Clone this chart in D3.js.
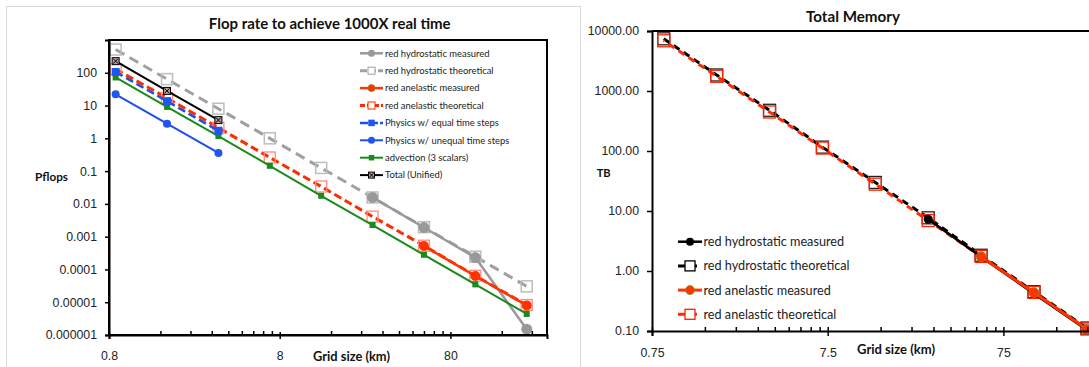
<!DOCTYPE html>
<html><head><meta charset="utf-8">
<script src="https://cdn.jsdelivr.net/npm/d3@7"></script>
<style>body{margin:0;background:#fff;} svg{display:block}</style>
</head><body>
<svg id="c" width="1089" height="367"></svg>
<script>
// ---------- DATA ----------
const gridKm = [0.875, 1.75, 3.5, 7, 14, 28, 56, 112, 224];

// Flop rate chart (Pflops)
const flopHydroMeasured      = [null, null, null, null, null, 0.0158, 0.0019, 0.00023, 0.0000015];
const flopHydroTheoretical   = [512, 64, 8, 1.0, 0.125, 0.0157, 0.00195, 0.000245, 0.0000305];
const flopAnelasticMeasured  = [null, null, null, null, null, null, 0.00052, 0.000063, 0.000008];
const flopAnelasticTheoretical = [130, 17, 2.1, 0.26, 0.034, 0.0041, 0.00053, 0.000064, 0.0000082];
const flopPhysicsEqual       = [106, 13.6, 1.7];
const flopPhysicsUnequal     = [22, 2.8, 0.36];
const flopAdvection          = [72, 9.1, 1.17, 0.145, 0.0177, 0.00226, 0.00028, 0.000035, 0.0000044];
const flopTotal              = [226, 28, 3.6];
const flopYTicks  = [1e-6, 1e-5, 1e-4, 1e-3, 1e-2, 0.1, 1, 10, 100];
const flopYLabels = ["0.000001", "0.00001", "0.0001", "0.001", "0.01", "0.1", "1", "10", "100"];
const flopXTicks  = [0.8, 8, 80];
const flopXLabels = ["0.8", "8", "80"];

// Total memory chart (TB)
const memHydroMeasured        = [null, null, null, null, null, 7.3, 1.72, 0.42, 0.104];
const memHydroTheoretical     = [7410, 1850, 477, 116, 29.9, 7.7, 1.83, 0.452, 0.112];
const memAnelasticMeasured    = [null, null, null, null, null, null, 1.73, 0.435, 0.107];
const memAnelasticTheoretical = [6870, 1760, 447, 112, 28, 6.95, 1.75, 0.44, 0.108];
const memYTicks  = [0.1, 1, 10, 100, 1000, 10000];
const memYLabels = ["0.10", "1.00", "10.00", "100.00", "1000.00", "10000.00"];
const memXTicks  = [0.75, 7.5, 75];
const memXLabels = ["0.75", "7.5", "75"];

// ---------- HELPERS ----------
const svg = d3.select("#c");
const LABEL_FONT = "'Liberation Sans', Arial, sans-serif";
const TITLE_FONT = "Lato, 'Open Sans', sans-serif";

function fitText(sel, target) {
  const w = sel.node().getComputedTextLength();
  const fs = parseFloat(sel.attr("font-size"));
  sel.attr("font-size", fs * target / w);
  return sel;
}
function drawMarker(g, m, cx, cy) {
  if (!m) return;
  if (m.type === "circle") {
    g.append("circle").attr("cx", cx).attr("cy", cy).attr("r", m.r)
      .attr("fill", m.fill).attr("stroke", m.stroke || "none").attr("stroke-width", m.sw || 1);
  } else if (m.type === "square" || m.type === "openSquare" || m.type === "squareX") {
    const s = m.size;
    g.append("rect").attr("x", cx - s / 2).attr("y", cy - s / 2).attr("width", s).attr("height", s)
      .attr("fill", m.type === "openSquare" ? (m.fill || "none") : m.fill)
      .attr("stroke", m.stroke || "none").attr("stroke-width", m.sw || 1);
    if (m.type === "squareX") {
      const h = s / 2 - 1;
      g.append("path").attr("d", `M${cx-h},${cy-h}L${cx+h},${cy+h}M${cx-h},${cy+h}L${cx+h},${cy-h}`)
        .attr("stroke", m.xstroke || "#000").attr("stroke-width", 1);
    }
  }
}
function drawSeries(g, xs, ys, sx, sy, st) {
  const pts = ys.map((v, i) => [xs[i], v]).filter(p => p[1] != null);
  const line = d3.line().x(p => sx(p[0])).y(p => sy(p[1]));
  g.append("path").attr("d", line(pts)).attr("fill", "none")
    .attr("stroke", st.color).attr("stroke-width", st.width)
    .attr("stroke-dasharray", st.dash || null).attr("stroke-dashoffset", st.dashOffset || 0)
    .attr("stroke-linejoin", "round");
  pts.forEach(p => drawMarker(g, st.marker, sx(p[0]), sy(p[1])));
}
function drawLegend(g, series, x0, x1, tx, y0, dy, fontSize, fitWidth) {
  series.forEach((s, i) => {
    const y = y0 + i * dy;
    g.append("line").attr("x1", x0).attr("x2", x1).attr("y1", y).attr("y2", y)
      .attr("stroke", s.color).attr("stroke-width", s.width).attr("stroke-dasharray", s.legendDash || s.dash || null);
    drawMarker(g, s.legendMarker || s.marker, (x0 + x1) / 2, y);
    const t = g.append("text").attr("x", tx).attr("y", y).attr("dy", "0.35em")
      .attr("font-family", TITLE_FONT).attr("font-size", fontSize).attr("fill", "#222").text(s.name);
    s._t = t;
  });
  const w = series[0]._t.node().getComputedTextLength();
  const fs = fontSize * fitWidth / w;
  series.forEach(s => s._t.attr("font-size", fs));
}

// outer frame of left chart
svg.append("rect").attr("x", 6.5).attr("y", 6.5).attr("width", 574).attr("height", 380)
  .attr("fill", "none").attr("stroke", "#d9d9d9").attr("stroke-width", 1);

// ---------- LEFT CHART ----------
{
  const L = 109, R = 547, T = 40, B = 335;
  const x = d3.scaleLog().domain([0.8, 294.5]).range([L, R]);
  const y = d3.scaleLog().domain([1e-6, 1000]).range([B, T]);
  const g = svg.append("g");

  const series = [
    {name: "red hydrostatic measured", values: flopHydroMeasured, color: "#999999", width: 2.5,
      marker: {type: "circle", r: 5.5, fill: "#999999"},
      legendMarker: {type: "circle", r: 3.5, fill: "#999999"}},
    {name: "red hydrostatic theoretical", values: flopHydroTheoretical, color: "#a0a0a0", width: 3, dash: "10,6",
      marker: {type: "openSquare", size: 11, stroke: "#bdbdbd", sw: 1.5},
      legendMarker: {type: "openSquare", size: 7, fill: "#fff", stroke: "#a0a0a0", sw: 1}, legendDash: "7,2"},
    {name: "red anelastic measured", values: flopAnelasticMeasured, color: "#ff3300", width: 2.5,
      marker: {type: "circle", r: 5, fill: "#ff3300"},
      legendMarker: {type: "circle", r: 3.5, fill: "#ff3300", stroke: "#9a7a20", sw: 0.8}},
    {name: "red anelastic theoretical", values: flopAnelasticTheoretical, color: "#ff2a00", width: 3, dash: "8,4",
      marker: {type: "openSquare", size: 11, stroke: "#ff8a80", sw: 1.3},
      legendMarker: {type: "openSquare", size: 7, fill: "#fff", stroke: "#ff2a00", sw: 1}, legendDash: "5,2"},
    {name: "Physics w/ equal time steps", values: flopPhysicsEqual, color: "#1f4fe6", width: 2.5, dash: "8,4",
      marker: {type: "square", size: 8, fill: "#1f55f0"}, legendDash: "8,2",
      legendMarker: {type: "square", size: 6.5, fill: "#1f55f0"}},
    {name: "Physics w/ unequal time steps", values: flopPhysicsUnequal, color: "#1f4fe6", width: 2,
      marker: {type: "circle", r: 4, fill: "#1f55f0"},
      legendMarker: {type: "circle", r: 3.5, fill: "#1f55f0"}},
    {name: "advection (3 scalars)", values: flopAdvection, color: "#1a8a1a", width: 2,
      marker: {type: "square", size: 6, fill: "#1a8a1a"},
      legendMarker: {type: "square", size: 5.5, fill: "#1a8a1a"}},
    {name: "Total (Unified)", values: flopTotal, color: "#000000", width: 2,
      marker: {type: "squareX", size: 7, fill: "#b89a9a", stroke: "#000", sw: 1},
      legendMarker: {type: "squareX", size: 6, fill: "#b89a9a", stroke: "#000", sw: 1}},
  ];
  const drawOrder = [1, 0, 3, 2, 6, 4, 5, 7];
  drawOrder.forEach(i => drawSeries(g, gridKm, series[i].values, x, y, series[i]));

  g.append("rect").attr("x", L).attr("y", T).attr("width", R - L).attr("height", B - T)
    .attr("fill", "none").attr("stroke", "#000").attr("stroke-width", 2);

  const ya = g.append("g").attr("transform", `translate(${L},0)`)
    .call(d3.axisLeft(y).tickValues(flopYTicks).tickFormat((d, i) => flopYLabels[i]).tickSize(4).tickPadding(8));
  ya.select(".domain").attr("stroke-width", 2);
  ya.selectAll(".tick line").attr("stroke-width", 1.5);
  ya.selectAll("text").attr("font-family", LABEL_FONT).attr("font-size", 12.3).attr("fill", "#222");

  const minor = [];
  [0.8, 8, 80].forEach(b => { for (let k = 2; k <= 9; k++) { const v = b * k; if (v < 294) minor.push(v); } });
  const xm = g.append("g").attr("transform", `translate(0,${B})`)
    .call(d3.axisBottom(x).tickValues(minor).tickFormat("").tickSize(-4));
  xm.select(".domain").remove();
  xm.selectAll(".tick line").attr("stroke-width", 1.5);
  const xa = g.append("g").attr("transform", `translate(0,${B})`)
    .call(d3.axisBottom(x).tickValues(flopXTicks).tickFormat((d, i) => flopXLabels[i]).tickSize(4).tickPadding(12));
  xa.select(".domain").attr("stroke-width", 2);
  xa.selectAll(".tick line").attr("stroke-width", 1.5).attr("y1", -3);
  xa.selectAll("text").attr("font-family", LABEL_FONT).attr("font-size", 12.3).attr("fill", "#222");

  fitText(svg.append("text").attr("x", 329.7).attr("y", 29).attr("text-anchor", "middle")
    .attr("font-family", TITLE_FONT).attr("font-weight", "bold").attr("font-size", 14).attr("fill", "#111")
    .text("Flop rate to achieve 1000X real time"), 242);
  fitText(svg.append("text").attr("x", 51.5).attr("y", 180.5).attr("text-anchor", "middle")
    .attr("font-family", TITLE_FONT).attr("font-weight", "bold").attr("font-size", 11).attr("fill", "#111")
    .text("Pflops"), 33);
  fitText(svg.append("text").attr("x", 351.5).attr("y", 360.5).attr("text-anchor", "middle")
    .attr("font-family", TITLE_FONT).attr("font-weight", "bold").attr("font-size", 11).attr("fill", "#111")
    .text("Grid size (km)"), 77);

  drawLegend(svg.append("g"), series, 360, 383, 385, 53.3, 17.4, 9, 104.6);
}

// ---------- RIGHT CHART ----------
{
  const L = 652, T = 31, B = 331;
  const x = d3.scaleLog().domain([0.75, 750]).range([L, L + 3 * 175.7]);
  const y = d3.scaleLog().domain([0.1, 10000]).range([B, T]);
  const g = svg.append("g");

  const series = [
    {name: "red hydrostatic measured", values: memHydroMeasured, color: "#000", width: 2.5,
      marker: {type: "circle", r: 4.5, fill: "#000"},
      legendMarker: {type: "circle", r: 4, fill: "#000"}},
    {name: "red hydrostatic theoretical", values: memHydroTheoretical, color: "#000", width: 3, dash: "7,5",
      marker: {type: "openSquare", size: 12, stroke: "#222", sw: 1.3},
      legendMarker: {type: "openSquare", size: 10, fill: "#fff", stroke: "#000", sw: 1.3}},
    {name: "red anelastic measured", values: memAnelasticMeasured, color: "#ff3300", width: 3,
      marker: {type: "circle", r: 5, fill: "#ff3300", stroke: "#8a8a30", sw: 0.8},
      legendMarker: {type: "circle", r: 4.5, fill: "#ff3300", stroke: "#8a8a30", sw: 0.8}},
    {name: "red anelastic theoretical", values: memAnelasticTheoretical, color: "#ff2a00", width: 3, dash: "7,5", dashOffset: 6,
      marker: {type: "openSquare", size: 12, stroke: "#ff2000", sw: 1.3},
      legendMarker: {type: "openSquare", size: 10, fill: "#fff", stroke: "#ff2000", sw: 1.3}},
  ];
  [1, 3, 0, 2].forEach(i => drawSeries(g, gridKm, series[i].values, x, y, series[i]));

  g.append("line").attr("x1", L).attr("x2", 1089).attr("y1", T).attr("y2", T)
    .attr("stroke", "#000").attr("stroke-width", 2);

  const ya = g.append("g").attr("transform", `translate(${L},0)`)
    .call(d3.axisLeft(y).tickValues(memYTicks).tickFormat((d, i) => memYLabels[i]).tickSize(5).tickPadding(8));
  ya.select(".domain").attr("stroke-width", 2);
  ya.selectAll(".tick line").attr("stroke-width", 1.5);
  ya.selectAll("text").attr("font-family", LABEL_FONT).attr("font-size", 12.3).attr("fill", "#222");

  const minor = [];
  [0.75, 7.5, 75].forEach(b => { for (let k = 2; k <= 9; k++) minor.push(b * k); });
  const xm = g.append("g").attr("transform", `translate(0,${B})`)
    .call(d3.axisBottom(x).tickValues(minor).tickFormat("").tickSize(-4));
  xm.select(".domain").remove();
  xm.selectAll(".tick line").attr("stroke-width", 1.5);
  const xa = g.append("g").attr("transform", `translate(0,${B})`)
    .call(d3.axisBottom(x).tickValues(memXTicks).tickFormat((d, i) => memXLabels[i]).tickSize(5).tickPadding(12));
  xa.select(".domain").attr("stroke-width", 2);
  xa.selectAll(".tick line").attr("stroke-width", 1.5).attr("y1", -4);
  xa.selectAll("text").attr("font-family", LABEL_FONT).attr("font-size", 12.3).attr("fill", "#222");

  fitText(svg.append("text").attr("x", 853).attr("y", 22).attr("text-anchor", "middle")
    .attr("font-family", TITLE_FONT).attr("font-weight", "bold").attr("font-size", 14).attr("fill", "#111")
    .text("Total Memory"), 94);
  fitText(svg.append("text").attr("x", 603.7).attr("y", 177).attr("text-anchor", "middle")
    .attr("font-family", TITLE_FONT).attr("font-weight", "bold").attr("font-size", 11).attr("fill", "#111")
    .text("TB"), 14);
  fitText(svg.append("text").attr("x", 896).attr("y", 353.5).attr("text-anchor", "middle")
    .attr("font-family", TITLE_FONT).attr("font-weight", "bold").attr("font-size", 11).attr("fill", "#111")
    .text("Grid size (km)"), 78);

  drawLegend(svg.append("g"), series, 678, 702, 703.5, 241.7, 24.2, 12, 140.7);
}
</script>
</body></html>
